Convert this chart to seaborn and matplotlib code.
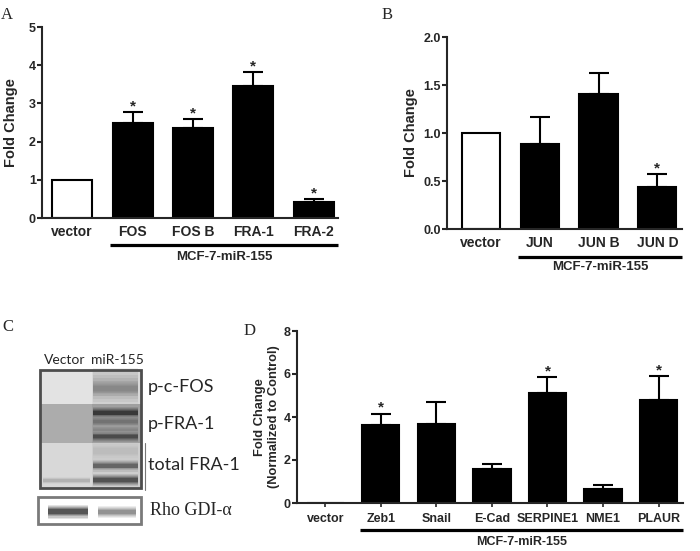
import numpy as np
import pandas as pd
import matplotlib
matplotlib.use("Agg")
import matplotlib.pyplot as plt
from matplotlib.patches import Rectangle
import seaborn as sns

# panel A - Fos family
a_genes = ["vector", "FOS", "FOS B", "FRA-1", "FRA-2"]
a_fold = [1.0, 2.50, 2.36, 3.45, 0.43]
a_err = [0.0, 0.27, 0.22, 0.38, 0.06]
a_sig = [False, True, True, True, True]

# panel B - Jun family
b_genes = ["vector", "JUN", "JUN B", "JUN D"]
b_fold = [1.0, 0.89, 1.41, 0.44]
b_err = [0.0, 0.28, 0.21, 0.13]
b_sig = [False, False, False, True]

# panel D - EMT / invasion genes
d_genes = ["vector", "Zeb1", "Snail", "E-Cad", "SERPINE1", "NME1", "PLAUR"]
d_fold = [0.0, 3.64, 3.69, 1.58, 5.12, 0.65, 4.78]
d_err = [0.0, 0.52, 0.99, 0.23, 0.72, 0.19, 1.11]
d_sig = [False, True, False, False, True, False, True]

group_label = "MCF-7-miR-155"

# panel C - western blot (lane 0 = Vector, lane 1 = miR-155)
blot_lanes = ["Vector", "miR-155"]
blot_rows = ["p-c-FOS", "p-FRA-1", "total FRA-1"]
blot_bg = [("#e3e3e3", "#d8d8d8"), ("#acacac", "#a0a0a0"), ("#d8d8d8", "#cecece")]
# (row, lane, position in strip 0-1, grey level, thickness)
blot_bands = [
    (0, 1, 0.50, 0.60, 16),
    (0, 1, 0.55, 0.50, 6),
    (1, 1, 0.22, 0.10, 5),
    (1, 1, 0.45, 0.40, 4),
    (1, 1, 0.66, 0.50, 3),
    (1, 1, 0.84, 0.20, 4),
    (2, 1, 0.18, 0.72, 7),
    (2, 1, 0.50, 0.28, 5),
    (2, 1, 0.82, 0.18, 5),
    (2, 0, 0.83, 0.66, 3),
]
loading_label = "Rho GDI-\u03b1"
loading_bands = [(0, 0.55, 0.15, 6), (1, 0.55, 0.45, 5)]

sns.set_style("ticks")
plt.rcParams["font.family"] = ["Liberation Sans", "DejaVu Sans"]
plt.rcParams["font.weight"] = "bold"
plt.rcParams["axes.labelweight"] = "bold"

fig = plt.figure(figsize=(7, 5.51), dpi=100)
W, H = 700, 551


def px_axes(left, top, right, bottom):
    return fig.add_axes([left / W, 1 - bottom / H, (right - left) / W, (bottom - top) / H])


def bar_panel(ax, genes, fold, err, sig, ymax, step, xlim, width, fs_tick, fs_lab,
              ylabel, lab_x, line_y, text_y, fs_group, xticks_on):
    df = pd.DataFrame({"gene": genes, "fold": fold})
    colors = ["white"] + ["black"] * (len(genes) - 1)
    sns.barplot(data=df, x="gene", y="fold", hue="gene", palette=colors, legend=False,
                width=width, edgecolor="black", linewidth=1.5, errorbar=None,
                saturation=1, ax=ax)
    bars = sorted(ax.patches, key=lambda p: p.get_x())
    xs = np.array([p.get_x() + p.get_width() / 2 for p in bars])
    fold = np.array(fold)
    err = np.array(err)
    keep = err > 0
    ax.errorbar(xs[keep], fold[keep], yerr=[np.zeros(keep.sum()), err[keep]], fmt="none",
                ecolor="black", elinewidth=1.5, capsize=7, capthick=1.5, zorder=1)
    for x, y, e, s in zip(xs, fold, err, sig):
        if s:
            ax.annotate("*", xy=(x, y + e), xytext=(0, -1), textcoords="offset points",
                        ha="center", va="bottom", fontsize=11, fontweight="bold")
    ax.set_xlim(*xlim)
    ax.set_ylim(0, ymax)
    ticks = np.arange(0, ymax + step / 2, step)
    ax.set_yticks(ticks)
    if step < 1:
        ax.set_yticklabels([f"{v:.1f}" for v in ticks])
    ax.set_xlabel("")
    ax.set_ylabel(ylabel, fontsize=fs_lab, fontweight="bold")
    ax.yaxis.set_label_coords(lab_x, 0.5)
    sns.despine(ax=ax)
    for sp in ["left", "bottom"]:
        ax.spines[sp].set_linewidth(1.5)
    ax.tick_params(axis="y", length=3.5, width=1.5, labelsize=9, pad=1)
    ax.tick_params(axis="x", length=3 if xticks_on else 0, width=1.2,
                   labelsize=fs_tick, pad=4 if xticks_on else 5)
    for t in ax.get_xticklabels() + ax.get_yticklabels():
        t.set_fontweight("bold")
    trans = ax.get_xaxis_transform()
    x0 = bars[1].get_x() - 0.04
    x1 = xlim[1]
    ax.plot([x0, x1], [line_y, line_y], transform=trans, color="black", lw=2.3,
            clip_on=False, solid_capstyle="butt")
    ax.text((x0 + x1) / 2, text_y, group_label, transform=trans, ha="center", va="center",
            fontsize=fs_group, fontweight="bold")


ax_a = px_axes(42, 27, 338, 218)
bar_panel(ax_a, a_genes, a_fold, a_err, a_sig, 5, 1, (-0.5, 4.4), 0.66, 10, 10.5,
          "Fold Change", -0.082, -0.141, -0.205, 9.5, False)

ax_b = px_axes(447, 37, 682, 229)
bar_panel(ax_b, b_genes, b_fold, b_err, b_sig, 2.0, 0.5, (-0.58, 3.42), 0.65, 10, 10.5,
          "Fold Change", -0.125, -0.146, -0.198, 9.5, False)

ax_d = px_axes(297, 331, 683, 503)
bar_panel(ax_d, d_genes, d_fold, d_err, d_sig, 8, 2, (-0.51, 6.44), 0.67, 9, 9.3,
          "Fold Change\n(Normalized to Control)", -0.045, -0.157, -0.227, 9, True)

# panel C: blot drawn in pixel coordinates
ax_c = px_axes(0, 330, 240, 551)
ax_c.set_xlim(0, 240)
ax_c.set_ylim(551, 330)
ax_c.axis("off")

box_l, box_r = 40, 141
strip_edges = [370, 404, 443, 488]
lane_x = [(43, 90), (93, 138)]


def band(x0, x1, yc, h, grey):
    for k, a in [(2.4, 0.12), (1.9, 0.15), (1.5, 0.2), (1.15, 0.3), (0.8, 0.45)]:
        ax_c.add_patch(Rectangle((x0, yc - h * k / 2), x1 - x0, h * k, color=str(grey),
                                 alpha=a, lw=0))


for i, name in enumerate(blot_rows):
    top, bot = strip_edges[i], strip_edges[i + 1]
    mid = (box_l + box_r) / 2 + 1
    ax_c.add_patch(Rectangle((box_l, top), mid - box_l, bot - top, color=blot_bg[i][0], lw=0))
    ax_c.add_patch(Rectangle((mid, top), box_r - mid, bot - top, color=blot_bg[i][1], lw=0))
    ax_c.text(148, (top + bot) / 2, name, ha="left", va="center", fontsize=13,
              fontweight="normal", family=["Lato", "DejaVu Sans"])
for row, lane, pos, grey, th in blot_bands:
    top, bot = strip_edges[row], strip_edges[row + 1]
    band(lane_x[lane][0], lane_x[lane][1], top + pos * (bot - top), th, grey)
ax_c.add_patch(Rectangle((box_l, strip_edges[0]), box_r - box_l, strip_edges[-1] - strip_edges[0],
                         fill=False, ec="#4d4d4d", lw=2))
ax_c.plot([145, 145], [443, 490], color="#777777", lw=0.8)

for lane, lab in enumerate(blot_lanes):
    ax_c.text((lane_x[lane][0] + lane_x[lane][1]) / 2 - 2 + 4 * lane, 360, lab, ha="center",
              va="center", fontsize=10, fontweight="normal", family=["Lato", "DejaVu Sans"])

rho_top, rho_bot = 497, 524
ax_c.add_patch(Rectangle((38, rho_top), box_r - 38, rho_bot - rho_top, color="white", lw=0))
for lane, pos, grey, th in loading_bands:
    band(lane_x[lane][0] + 5, lane_x[lane][1] - 2, rho_top + pos * (rho_bot - rho_top), th, grey)
ax_c.add_patch(Rectangle((38, rho_top), box_r - 38, rho_bot - rho_top, fill=False,
                         ec="#7a7a7a", lw=2))
ax_c.text(150, (rho_top + rho_bot) / 2, loading_label, ha="left", va="center", fontsize=13,
          fontweight="normal", family=["Liberation Serif", "DejaVu Serif"])

# panel letters
for lab, x, y in [("A", 7, 15), ("B", 387, 15), ("C", 8, 327), ("D", 250, 331)]:
    fig.text(x / W, 1 - y / H, lab, ha="center", va="center", fontsize=12,
             fontweight="normal", family=["Liberation Serif", "DejaVu Serif"])

fig.savefig("out.png", dpi=100)
